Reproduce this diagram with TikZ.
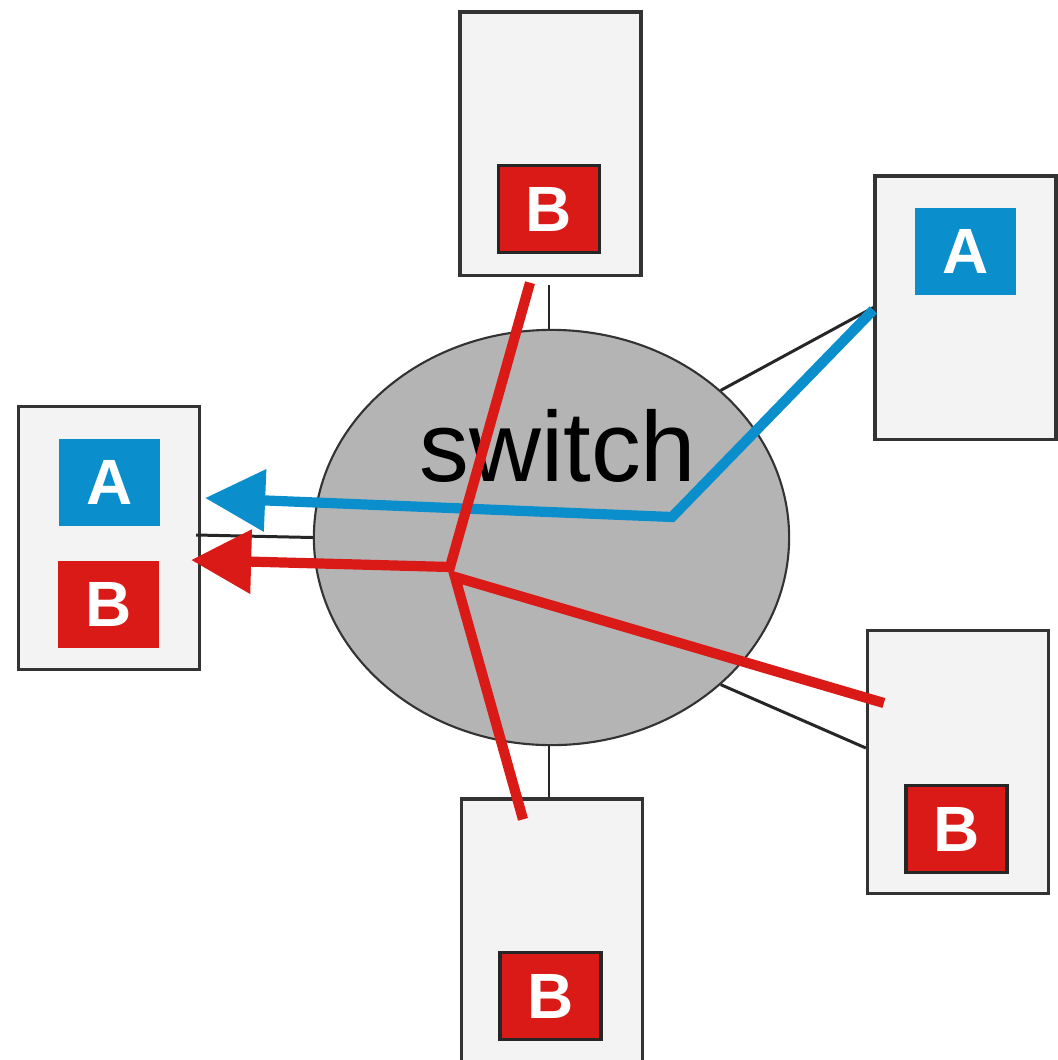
\documentclass[tikz,border=0pt]{standalone}
\usepackage{fontspec}
\setmainfont{Liberation Sans}
\usetikzlibrary{shapes.geometric,arrows.meta,calc}

\definecolor{hostfill}{HTML}{F3F3F3}
\definecolor{hostedge}{HTML}{333333}
\definecolor{switchfill}{HTML}{B4B4B4}
\definecolor{flowblue}{HTML}{0A8FCC}
\definecolor{flowred}{HTML}{DA1A16}

\tikzset{
  host/.style={draw=hostedge, fill=hostfill, line width=0.9pt,
    minimum width=1.81cm, minimum height=2.63cm, inner sep=0pt},
  tag/.style={text=white, font=\fontsize{18.2}{20}\selectfont\bfseries,
    minimum width=1.01cm, minimum height=0.87cm, inner sep=0pt},
  tagA/.style={tag, fill=flowblue},
  tagB/.style={tag, fill=flowred},
  tagBframed/.style={tagB, draw=black!85, line width=0.9pt},
  link/.style={draw=black!85, line width=0.85pt},
  flow/.style={line width=2.9pt, line cap=butt, line join=miter},
  bluearrow/.style={flow, draw=flowblue,
    -{Triangle[length=0.6cm,width=0.6cm]}},
  redarrow/.style={flow, draw=flowred,
    -{Triangle[length=0.6cm,width=0.62cm]}},
}

\begin{document}
\begin{tikzpicture}[x=0.01cm, y=-0.01cm]
\useasboundingbox (0,0) rectangle (1058,1060);
\clip (0,0) rectangle (1058,1060);

% central switch
\node[ellipse, draw=hostedge, fill=switchfill, line width=0.6pt,
      minimum width=4.75cm, minimum height=4.15cm, inner sep=0pt]
      (sw) at (551.5,537.5) {};
\node[anchor=base, font=\fontsize{28.3}{30}\selectfont, inner sep=0pt]
      (swlabel) at (558,481) {switch};

% hosts
\node[host] (top)  at (550.5,143.5) {};
\node[host] (rtop) at (965.5,307.5) {};
\node[host] (lbox) at (109,538)     {};
\node[host] (rbot) at (958,762)     {};
\node[host] (bot)  at (552,930.5)   {};

% tags inside the hosts
\node[tagBframed] (topB)  at (549,209)    {B};
\node[tagA]       (rtopA) at (965.5,251.5) {A};
\node[tagA]       (lA)    at (109.5,482.5) {A};
\node[tagB]       (lB)    at (108.5,604.5) {B};
\node[tagBframed] (rbotB) at (956.5,829)  {B};
\node[tagBframed] (botB)  at (550.5,996)  {B};

% cabling between hosts and switch
\coordinate (cTop)  at ($(top.south)+(-1.5,8)$);
\coordinate (cLeft) at ($(lbox.east)+(-5,-3)$);
\coordinate (cRbot) at ($(rbot.west)+(0,-14)$);
\coordinate (cBot)  at ($(bot.north)+(-3,0)$);
\draw[link] (cTop) -- (cTop |- sw.north);
\draw[link] (rtop.west) -- (sw.41);
\draw[link] (cLeft) -- (sw.west);
\draw[link] (cRbot) -- (sw.-41);
\draw[link] (cBot) -- (cBot |- sw.south);

% flow of A traffic
\coordinate (bStart) at ($(rtop.west)+(0,2.5)$);
\coordinate (bBend)  at (672,517);
\coordinate (bTip)   at ($(lbox.east)+(4,-40)$);
\draw[bluearrow] (bStart) -- (bBend) -- (bTip);

% flow of B traffic
\coordinate (rTop)   at ($(top.south)+(-20.5,6)$);
\coordinate (rBend)  at (450,567);
\coordinate (rTip)   at ($(lbox.east)+(-10,22)$);
\coordinate (rRight) at ($(rbot.west)+(18,-59)$);
\coordinate (rFork)  at (455,577);
\coordinate (rBot)   at ($(bot.north)+(-29,22)$);
\draw[redarrow] (rTop) -- (rBend) -- (rTip);
\draw[flow, draw=flowred] (rRight) -- (rFork) -- (rBot);
\end{tikzpicture}
\end{document}
